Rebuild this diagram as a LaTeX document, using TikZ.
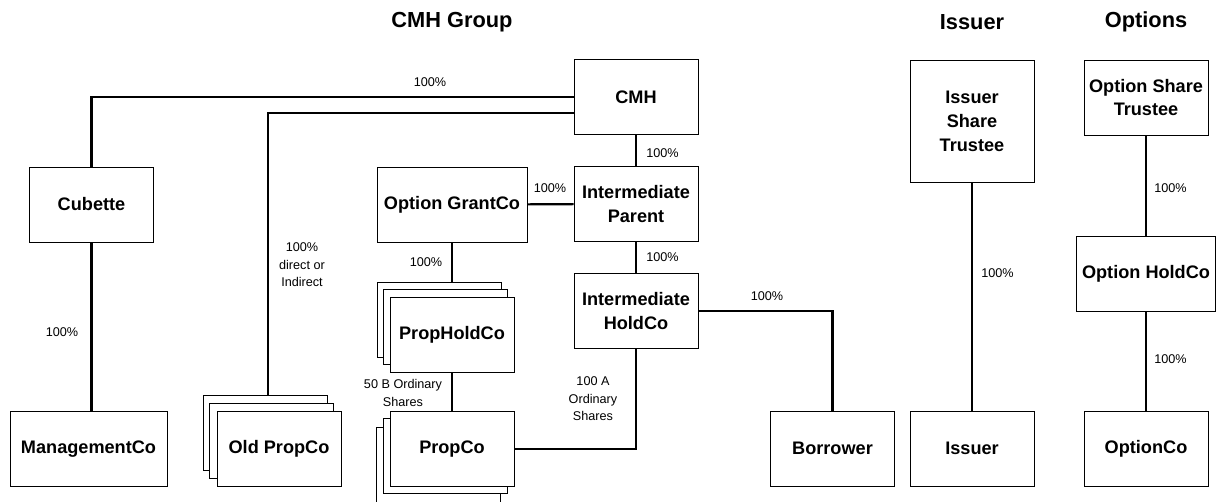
\documentclass[tikz,border=0pt]{standalone}
\usepackage{fontspec}
\setmainfont{Liberation Sans}
\usepackage{tikz}
\usetikzlibrary{positioning}

\newcommand{\boxfont}{\fontsize{12.9}{17}\selectfont\bfseries}
\newcommand{\pctfont}{\fontsize{9}{12.5}\selectfont}
\newcommand{\headfont}{\fontsize{15.5}{18}\selectfont\bfseries}

\tikzstyle{entity} = [rectangle, minimum width=3.1cm, minimum height=1.875cm, inner sep=0pt, align=center, draw=black, line width=0.6pt, fill=white, font=\boxfont]
\tikzstyle{stackbox} = [entity]
\tikzstyle{heading} = [font=\headfont, inner sep=0pt]
\tikzstyle{pct} = [font=\pctfont, align=center, inner sep=0pt]
\tikzstyle{link} = [line width=1.5pt]

\begin{document}
\begin{tikzpicture}[x=0.025cm, y=-0.025cm, node distance=2.675cm]
\useasboundingbox (0,0) rectangle (1216,501);

% headings
\node (hcmh) [heading] at (452,22) {CMH Group};
\node (hissuer) [heading] at (972,22) {Issuer};
\node (hoptions) [heading] at (1146,22) {Options};

% CMH group
\node (cmh) [entity] at (636,97) {CMH};
\node (intparent) [entity, below of=cmh] {Intermediate\\Parent};
\node (intholdco) [entity, below of=intparent] {Intermediate\\HoldCo};
\node (optgrantco) [entity, minimum width=3.75cm] at (452,204.5) {Option GrantCo};
\node (cubette) [entity] at (91.5,204.5) {Cubette};
\node (mgmtco) [entity, minimum width=3.925cm] at (88.5,449) {ManagementCo};

\node (propholdback1) [stackbox] at (439,320) {};
\node (propholdback2) [stackbox] at (445.5,326.5) {};
\node (propholdco) [entity] at (452,335) {PropHoldCo};

\node (propcoback1) [stackbox] at (438,465) {};
\node (propcoback2) [stackbox] at (445,455.5) {};
\node (propco) [entity] at (452,449) {PropCo};

\node (oldback1) [stackbox] at (265,433) {};
\node (oldback2) [stackbox] at (271.5,440.5) {};
\node (oldpropco) [entity] at (279,449) {Old PropCo};

\node (borrower) [entity] at (832.5,448.5) {Borrower};

% Issuer
\node (istrustee) [entity, minimum height=3.05cm] at (972,121) {Issuer\\Share\\Trustee};
\node (issuer) [entity] at (972,448.5) {Issuer};

% Options
\node (ostrustee) [entity] at (1146,97.5) {Option Share\\Trustee};
\node (optholdco) [entity, minimum width=3.475cm] at (1146,273.5) {Option HoldCo};
\node (optionco) [entity] at (1146,448.5) {OptionCo};

%% connectors
\draw [link] (cmh.west) -| (cubette.north);
\draw [link] ([yshift=-0.4cm]cmh.west) -| ([xshift=0.075cm]oldback1.north);
\draw [link] (cubette.south) -- (cubette.south |- mgmtco.north);
\draw [link] (cmh) -- (intparent);
\draw [link] (optgrantco) -- (intparent);
\draw [link] (intparent) -- (intholdco);
\draw [link] (optgrantco.south) -- (optgrantco.south |- propholdback1.north);
\draw [link] (propholdco) -- (propco);
\draw [link] (propco.east) -| (intholdco.south);
\draw [link] (intholdco.east) -| (borrower.north);
\draw [link] (istrustee) -- (issuer);
\draw [link] (ostrustee) -- (optholdco);
\draw [link] (optholdco) -- (optionco);

%% labels
\node (pcubette) [pct] at (430,82) {100\%};
\node (pparent) [pct, anchor=west] at (646,153) {100\%};
\node (pgrant) [pct] at (550,188) {100\%};
\node (pholdco) [pct, anchor=west] at (646,257) {100\%};
\node (ppropholdco) [pct] at (426,262) {100\%};
\node (poldprop) [pct] at (302,265) {100\%\\direct or\\Indirect};
\node (pmgmt) [pct] at (62,332) {100\%};
\node (pbshares) [pct] at (403,393) {50 B Ordinary\\Shares};
\node (pashares) [pct] at (593,399) {100 A\\Ordinary\\Shares};
\node (pborrower) [pct] at (767,296) {100\%};
\node (pissuer) [pct, anchor=west] at (981,273) {100\%};
\node (poptholdco) [pct, anchor=west] at (1154,188) {100\%};
\node (poptionco) [pct, anchor=west] at (1154,359) {100\%};

\end{tikzpicture}
\end{document}
